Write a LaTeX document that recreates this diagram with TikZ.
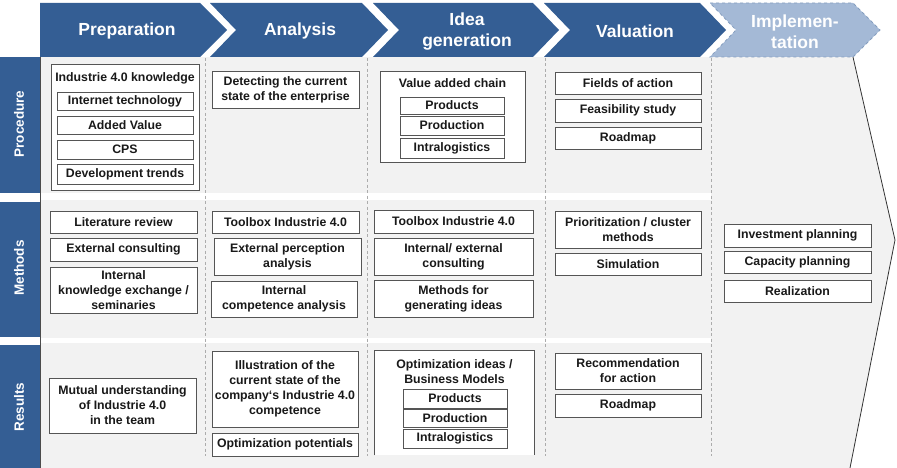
\documentclass[tikz,border=0pt]{standalone}
\usepackage{fontspec}
\setmainfont{Liberation Sans}
\usepackage{tikz}
\usetikzlibrary{positioning}

\definecolor{phaseBlue} {RGB}{52,  94, 148}
\definecolor{phaseLight}{RGB}{164, 185, 214}
\definecolor{laneGray}  {RGB}{242, 242, 242}
\definecolor{boxLine}   {RGB}{85,  85,  85}
\definecolor{boxText}   {RGB}{25,  25,  25}

\tikzset{
  cell/.style={draw=boxLine,fill=white,line width=0.9pt,inner sep=0pt,
               text=boxText,align=center,font=\bfseries\fontsize{12.3}{15}\selectfont},
  spanbox/.style n args={4}{minimum width={#3-#1},minimum height={#4-#2},
                            at={({(#1+#3)/2},{(#2+#4)/2})}},
  celltitle/.style={inner sep=0pt,text=boxText,align=center,
                    font=\bfseries\fontsize{12.3}{15}\selectfont},
  phase/.style={fill=phaseBlue},
  phasetext/.style={white,align=center,font=\bfseries\fontsize{17.5}{21}\selectfont},
  lanetext/.style={rotate=90,white,inner sep=0pt,font=\bfseries\fontsize{13.5}{16}\selectfont},
  colsep/.style={gray!65,dash pattern=on 3pt off 2.5pt,line width=0.8pt},
}

\begin{document}
\begin{tikzpicture}[x=1pt,y=-1pt]
  \useasboundingbox (0,0) rectangle (897,468);

  % ── LANES ──────────────────────────────────────────────
  \fill[laneGray] (711,57) -- (853,57) -- (895,240) -- (850,468) -- (711,468) -- cycle;
  \draw[black!80,line width=0.8pt] (853,57) -- (895,240) -- (850,468);
  \foreach \ya/\yb in {57/193, 200/338, 343/468}{
    \fill[laneGray] (40,\ya) rectangle (711,\yb);
  }
  \foreach \x in {205,367,545,711}{
    \draw[colsep] (\x,58) -- (\x,456);
  }
  \draw[black!70,line width=0.8pt] (40.5,57) -- (40.5,468);

  \fill[phaseBlue] (0,57) rectangle (40,193);
  \fill[phaseBlue] (0,202) rectangle (40,337);
  \fill[phaseBlue] (0,345) rectangle (40,468);
  \node[lanetext] (lproc) at (19,124) {Procedure};
  \node[lanetext] (lmeth) at (19,268) {Methods};
  \node[lanetext] (lres)  at (19,407) {Results};

  % ── PHASES ─────────────────────────────────────────────
  \fill[phase] (40,3) -- (200,3) -- (227,30) -- (200,57) -- (40,57) -- cycle;
  \foreach \l/\r in {210/362, 373/533, 544/700}{
    \fill[phase] (\l,3) -- (\r,3) -- (\r+26,30) -- (\r,57) -- (\l,57) -- (\l+26,30) -- cycle;
  }
  \filldraw[fill=phaseLight,draw=phaseBlue!60,dashed,line width=0.8pt]
    (710,3) -- (853,3) -- (880,30) -- (853,57) -- (710,57) -- (736,30) -- cycle;
  \node[phasetext] (hprep) at (127,31) {Preparation};
  \node[phasetext] (hana)  at (300,31) {Analysis};
  \node[phasetext] (hidea) at (467,32) {Idea\\generation};
  \node[phasetext] (hval)  at (635,31) {Valuation};
  \node[phasetext] (himp)  at (795,32) {Implemen-\\tation};

  % ── PROCEDURE ──────────────────────────────────────────
  \node[cell,spanbox={51}{64}{199}{190}] (pknow) {};
  \node[celltitle,below=9pt of pknow.north] (pknowt) {Industrie 4.0 knowledge};
  \foreach \val/\ya/\yb [count=\i] in {Internet technology/92/110, Added Value/116/134,
                                        CPS/140/159, Development trends/164/184}{
    \node[cell,spanbox={57}{\ya}{193}{\yb}] (pknow\i) {\val};
  }
  \node[cell,spanbox={212}{71}{359}{108}] (pdetect) {Detecting the current\\state of the enterprise};
  \node[cell,spanbox={380}{71}{525}{162}] (pchain) {};
  \node[celltitle,below=8pt of pchain.north] (pchaint) {Value added chain};
  \foreach \val/\ya/\yb [count=\i] in {Products/97/114, Production/116/135, Intralogistics/138/158}{
    \node[cell,spanbox={400}{\ya}{504}{\yb}] (pchain\i) {\val};
  }
  \foreach \val/\ya/\yb [count=\i] in {Fields of action/72/94, Feasibility study/99/122, Roadmap/127/149}{
    \node[cell,spanbox={555}{\ya}{701}{\yb}] (pval\i) {\val};
  }

  % ── METHODS ────────────────────────────────────────────
  \node[cell,spanbox={50}{211}{197}{233}] (mlit) {Literature review};
  \node[cell,spanbox={50}{238}{197}{261}] (mext) {External consulting};
  \node[cell,spanbox={50}{267}{197}{313}] (mint) {Internal\\knowledge exchange /\\seminaries};
  \node[cell,spanbox={212}{211}{359}{233}] (mtool) {Toolbox Industrie 4.0};
  \node[cell,spanbox={214}{238}{361}{275}] (mperc) {External perception\\analysis};
  \node[cell,spanbox={211}{281}{357}{317}] (mcomp) {Internal\\competence analysis};
  \node[cell,spanbox={374}{210}{533}{233}] (mtool2) {Toolbox Industrie 4.0};
  \node[cell,spanbox={374}{238}{533}{275}] (mcons) {Internal/ external\\consulting};
  \node[cell,spanbox={374}{280}{533}{317}] (mgen) {Methods for\\generating ideas};
  \node[cell,spanbox={555}{211}{701}{248}] (mprio) {Prioritization / cluster\\methods};
  \node[cell,spanbox={555}{253}{701}{275}] (msim) {Simulation};
  \foreach \val/\ya/\yb [count=\i] in {Investment planning/224/247, Capacity planning/251/273,
                                        Realization/280/302}{
    \node[cell,spanbox={724}{\ya}{871}{\yb}] (mimp\i) {\val};
  }

  % ── RESULTS ────────────────────────────────────────────
  \node[cell,spanbox={49}{378}{196}{433}] (rmut) {Mutual understanding\\of Industrie 4.0\\in the team};
  \node[cell,spanbox={212}{351}{358}{427}] (rill) {Illustration of the\\current state of the\\company‘s Industrie 4.0\\competence};
  \node[cell,spanbox={212}{433}{358}{456}] (rpot) {Optimization potentials};
  \node[cell,draw=none,spanbox={375}{351}{534}{455}] (ridea) {};
  \draw[boxLine,line width=0.9pt] (ridea.south west) -- (ridea.north west)
    -- (ridea.north east) -- (ridea.south east);
  \node[celltitle,below=9pt of ridea.north] (rideat) {Optimization ideas /\\Business Models};
  \foreach \val/\ya/\yb [count=\i] in {Products/389/408, Production/409/427, Intralogistics/429/448}{
    \node[cell,spanbox={403}{\ya}{507}{\yb}] (ridea\i) {\val};
  }
  \node[cell,spanbox={555}{353}{701}{389}] (rrec) {Recommendation\\for action};
  \node[cell,spanbox={555}{394}{701}{417}] (rroad) {Roadmap};

\end{tikzpicture}
\end{document}
